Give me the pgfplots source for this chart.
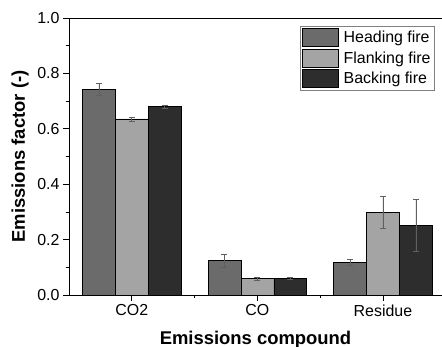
\documentclass[border=0pt]{standalone}
\usepackage{pgfplots}
\pgfplotsset{compat=1.18}
\usetikzlibrary{calc}
\usepackage{fontspec}
\setmainfont{Liberation Sans}
\definecolor{headc}{HTML}{6B6B6B}
\definecolor{flankc}{HTML}{A4A4A4}
\definecolor{backc}{HTML}{2D2D2D}
\definecolor{errc}{HTML}{606060}
\begin{document}
\begin{tikzpicture}
\begin{axis}[
  scale only axis, width=373bp, height=277bp,
  xmin=-0.5, xmax=2.47, ymin=0, ymax=1,
  axis lines=left, axis line style={-, line width=0.9pt},
  ybar=0pt, bar width=0.262,
  xtick={0,1,2}, xticklabels={CO2,CO,Residue},
  minor xtick={0.5,1.5},
  ytick={0,0.2,0.4,0.6,0.8,1.0}, minor ytick={0.1,0.3,0.5,0.7,0.9},
  tick align=outside, major tick length=6bp, minor tick length=3bp,
  tick style={black, line width=0.8pt},
  /pgf/number format/assume math mode=true,
  y tick label style={/pgf/number format/fixed, /pgf/number format/fixed zerofill, /pgf/number format/precision=1},
  tick label style={font=\fontsize{16}{19}\selectfont},
  xlabel={Emissions compound}, ylabel={Emissions factor (-)},
  label style={font=\bfseries\fontsize{18.5}{22}\selectfont},
  xlabel style={at={(axis description cs:0.5,0)}, anchor=base, yshift=-49bp},
  ylabel style={at={($(axis description cs:0,0.5)+(-44bp,0)$)}, anchor=base},
  legend style={at={(0.619,0.971)}, anchor=north west, draw=gray, font=\fontsize{16}{19}\selectfont, row sep=2bp, inner sep=2bp, cells={anchor=west},
    /tikz/every odd column/.append style={column sep=3bp}},
  legend image code/.code={\draw[#1] (0bp,-9bp) rectangle (36bp,9bp);},
  after end axis/.code={
    \draw[line width=0.9pt] (rel axis cs:0,1) -- (rel axis cs:1,1);
    \coordinate (A) at (rel axis cs:0,0);
    \coordinate (B) at (rel axis cs:1,1);
  },
  every axis plot/.append style={draw=black, line width=0.6pt},
]
\addplot[fill=headc, error bars/.cd, y dir=both, y explicit, error bar style={errc, line width=0.6pt}, error mark options={errc, mark size=3bp, rotate=90}]
  coordinates {(0,0.743) +- (0,0.021) (1,0.125) +- (0,0.023) (2,0.118) +- (0,0.010)};
\addplot[fill=flankc, error bars/.cd, y dir=both, y explicit, error bar style={errc, line width=0.6pt}, error mark options={errc, mark size=3bp, rotate=90}]
  coordinates {(0,0.636) +- (0,0.007) (1,0.059) +- (0,0.006) (2,0.299) +- (0,0.058)};
\addplot[fill=backc, error bars/.cd, y dir=both, y explicit, error bar style={errc, line width=0.6pt}, error mark options={errc, mark size=3bp, rotate=90}]
  coordinates {(0,0.680) +- (0,0.004) (1,0.060) +- (0,0.004) (2,0.252) +- (0,0.093)};
\legend{Heading fire, Flanking fire, Backing fire}
\end{axis}
\path (A) ++(-69bp,-52bp) coordinate (P);
\path (B) ++(0bp,18bp) coordinate (Q);
\pgfresetboundingbox
\path (P) rectangle (Q);
\end{tikzpicture}
\end{document}
